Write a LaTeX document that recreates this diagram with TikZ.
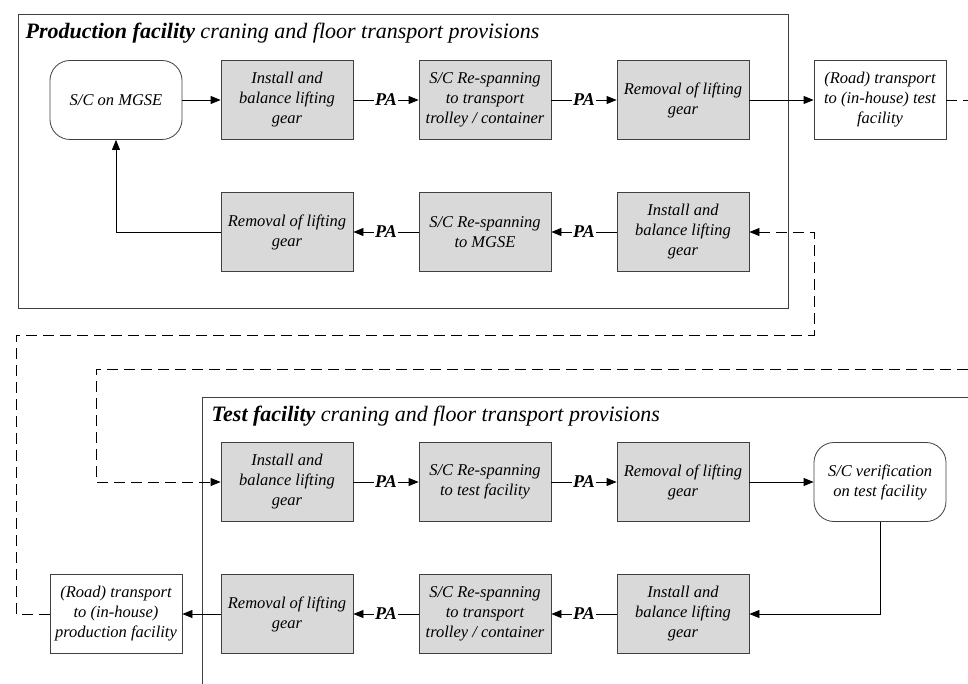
\documentclass[tikz,border=0pt]{standalone}
\usepackage{fontspec}
\setmainfont{Liberation Serif}
\usetikzlibrary{arrows.meta, positioning}

\newcommand{\boxfont}{\fontsize{16.5}{20}\selectfont\itshape}
\newcommand{\titlefont}{\fontsize{22}{24}\selectfont\itshape}

\tikzset{
	stepbox/.style={draw=black!75, fill=black!15, minimum width=132pt, minimum height=79pt,
		align=center, inner sep=0pt, font=\boxfont},
	endbox/.style={stepbox, fill=white},
	statebox/.style={stepbox, fill=white, rounded corners=20pt},
	pa/.style={fill=white, inner sep=1.5pt, font=\fontsize{18}{20}\selectfont\itshape\bfseries},
	flow/.style={-{Triangle[length=10pt,width=8pt]}},
	transfer/.style={flow, dash pattern=on 11pt off 6pt},
}

\begin{document}
\begin{tikzpicture}[x=1pt, y=-1pt, line width=0.8pt]
			\def\rowA{100};
			\def\rowB{232};
			\def\rowC{482};
			\def\rowD{614};

			\def\colA{116};
			\def\colB{287};
			\def\colC{485};
			\def\colD{683};
			\def\colE{880};

			\useasboundingbox (0,0) rectangle (968,684);

			\begin{scope}[draw=black!75]
				\draw (18,14) rectangle (788,308);
				\draw (968,397) -- (202,397) -- (202,684);
			\end{scope}

			\node[anchor=base west, font=\titlefont] (pTitle) at (22,39)
				{{\bfseries Production facility} craning and floor transport provisions};
			\node[anchor=base west, font=\titlefont] (tTitle) at (208,421)
				{{\bfseries Test facility} craning and floor transport provisions};

			% production facility
			\node[statebox] (pMGSE) at (\colA,\rowA) {S/C on MGSE};
			\node[stepbox] (pInstallA) at (\colB,\rowA) {Install and\\ balance lifting\\ gear};
			\node[stepbox] (pSpanA) at (\colC,\rowA) {S/C Re-spanning\\ to transport\\ trolley / container};
			\node[stepbox] (pRemoveA) at (\colD,\rowA) {Removal of lifting\\ gear};
			\node[endbox] (pRoad) at (\colE,\rowA) {(Road) transport\\ to (in-house) test\\ facility};

			\node[stepbox] (pRemoveB) at (\colB,\rowB) {Removal of lifting\\ gear};
			\node[stepbox] (pSpanB) at (\colC,\rowB) {S/C Re-spanning\\ to MGSE};
			\node[stepbox] (pInstallB) at (\colD,\rowB) {Install and\\ balance lifting\\ gear};

			% test facility
			\node[stepbox] (tInstallA) at (\colB,\rowC) {Install and\\ balance lifting\\ gear};
			\node[stepbox] (tSpanA) at (\colC,\rowC) {S/C Re-spanning\\ to test facility};
			\node[stepbox] (tRemoveA) at (\colD,\rowC) {Removal of lifting\\ gear};
			\node[statebox] (tVerify) at (\colE,\rowC) {S/C verification\\ on test facility};

			\node[endbox] (tRoad) at (\colA,\rowD) {(Road) transport\\ to (in-house)\\ production facility};
			\node[stepbox] (tRemoveB) at (\colB,\rowD) {Removal of lifting\\ gear};
			\node[stepbox] (tSpanB) at (\colC,\rowD) {S/C Re-spanning\\ to transport\\ trolley / container};
			\node[stepbox] (tInstallB) at (\colD,\rowD) {Install and\\ balance lifting\\ gear};

			\coordinate (eastA) at (968,\rowA);
			\coordinate (eastB) at (968,369);

			\begin{scope}[flow]
				\draw (pMGSE) -- (pInstallA);
				\draw (pInstallA) -- node[pa] {PA} (pSpanA);
				\draw (pSpanA) -- node[pa] {PA} (pRemoveA);
				\draw (pRemoveA) -- (pRoad);
				\draw (pInstallB) -- node[pa] {PA} (pSpanB);
				\draw (pSpanB) -- node[pa] {PA} (pRemoveB);
				\draw (pRemoveB.west) -| (pMGSE.south);

				\draw (tInstallA) -- node[pa] {PA} (tSpanA);
				\draw (tSpanA) -- node[pa] {PA} (tRemoveA);
				\draw (tRemoveA) -- (tVerify);
				\draw (tVerify.south) |- (tInstallB.east);
				\draw (tInstallB) -- node[pa] {PA} (tSpanB);
				\draw (tSpanB) -- node[pa] {PA} (tRemoveB);
				\draw (tRemoveB) -- (tRoad);
			\end{scope}

			\draw[dash pattern=on 11pt off 6pt] (pRoad.east) -- (eastA);
			\draw[transfer] (eastB) -- (96,369) |- (tInstallA.west);
			\draw[transfer] (tRoad.west) -- (16,\rowD) -- (16,335) -- (814,335) |- (pInstallB.east);
		\end{tikzpicture}
\end{document}
